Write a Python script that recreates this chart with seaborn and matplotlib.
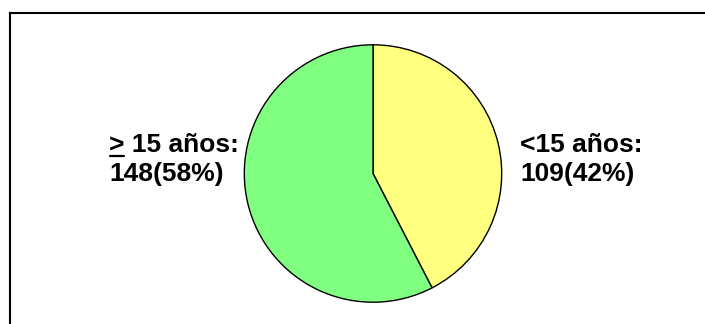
import matplotlib
matplotlib.use("Agg")
import matplotlib.pyplot as plt
from matplotlib.lines import Line2D
import seaborn as sns

# Data
categories = ["<15 años", "≥ 15 años"]
counts = [109, 148]
percents = [42, 58]
colors = ["#FFFF80", "#80FF80"]

sns.set_theme(style="white")
plt.rcParams["font.family"] = ["Liberation Sans", "DejaVu Sans"]

W, H = 705, 324
fig = plt.figure(figsize=(W / 100, H / 100), dpi=100)
fig.patch.set_facecolor("white")

# Pie axes: centre (373, 173.5) px, radius 130 px
cx, cy, r = 373, 173.5, 130
ax = fig.add_axes([(cx - r) / W, (H - cy - r) / H, 2 * r / W, 2 * r / H])
ax.pie(counts, colors=colors, startangle=90, counterclock=False,
       wedgeprops=dict(edgecolor="black", linewidth=1.0))
ax.set_xlim(-1.01, 1.01)
ax.set_ylim(-1.01, 1.01)
ax.set_axis_off()

# Frame (extends off right and bottom edges)
lw = 1.5
fig.add_artist(Line2D([10 / W, 1.0], [1 - 13 / H, 1 - 13 / H], transform=fig.transFigure,
                      color="black", linewidth=lw, solid_capstyle="projecting"))
fig.add_artist(Line2D([10 / W, 10 / W], [1 - 13 / H, 0.0], transform=fig.transFigure,
                      color="black", linewidth=lw, solid_capstyle="projecting"))

fs = 19
y1 = (H - 152.5) / H
y2 = (H - 180.5) / H

# Right label (<15)
fig.text(520 / W, y1, f"{categories[0]}:", fontsize=fs, fontweight="bold",
         ha="left", va="baseline", color="black")
fig.text(520 / W, y2, f"{counts[0]}({percents[0]}%)", fontsize=fs, fontweight="bold",
         ha="left", va="baseline", color="black")

# Left label (≥15) with underlined '>'
lx = 109 / W
rest = categories[1].split(" ", 1)[1]
fig.text(lx, y1, "> " + rest + ":", fontsize=fs, fontweight="bold",
         ha="left", va="baseline", color="black")
meas = fig.text(lx, y1, ">", fontsize=fs, fontweight="bold",
                ha="left", va="baseline", color="none")
fig.text(lx, y2, f"{counts[1]}({percents[1]}%)", fontsize=fs, fontweight="bold",
         ha="left", va="baseline", color="black")

fig.canvas.draw()
bb = meas.get_window_extent()
meas.remove()
uy = (H - 155.5) / H
fig.add_artist(Line2D([bb.x0 / W + 0.001, bb.x1 / W - 0.001], [uy, uy], transform=fig.transFigure,
                      color="black", linewidth=1.6))

fig.savefig("out.png", dpi=100, facecolor="white")
